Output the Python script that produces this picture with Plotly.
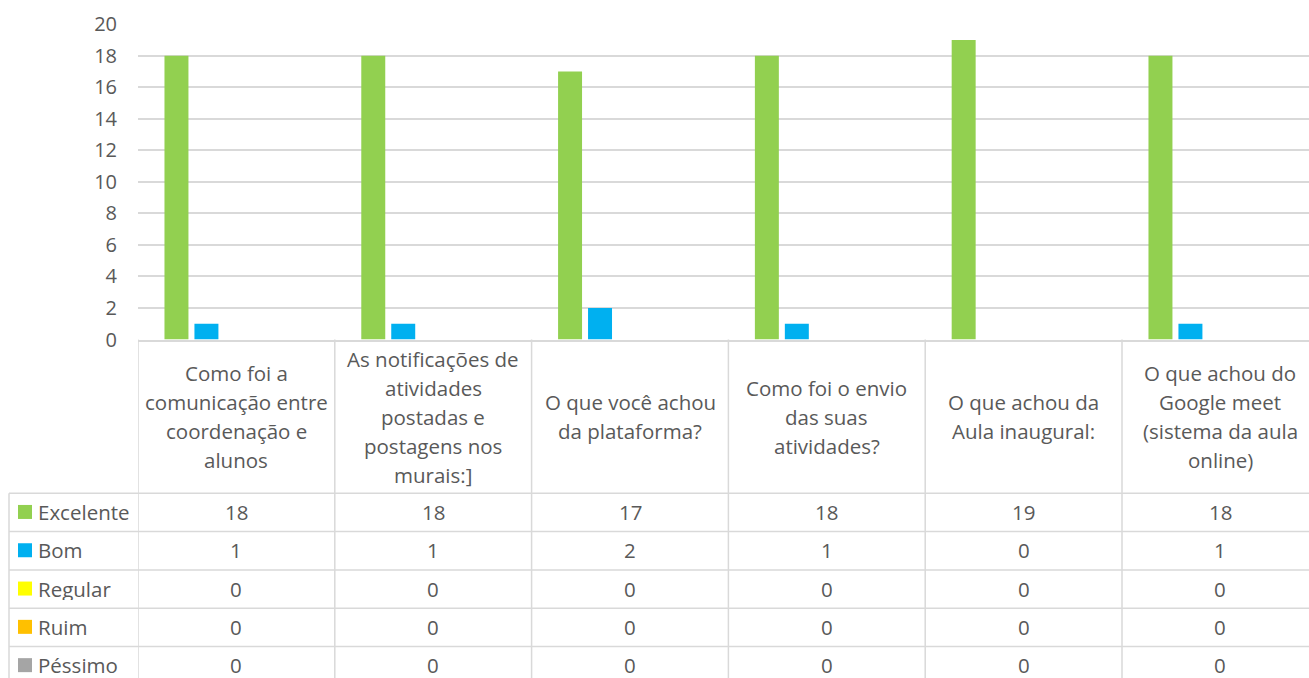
import plotly.graph_objects as go

# ---- data ----
categories = [
    "Como foi a<br>comunicação entre<br>coordenação e<br>alunos",
    "As notificações de<br>atividades<br>postadas e<br>postagens nos<br>murais:]",
    "O que você achou<br>da plataforma?",
    "Como foi o envio<br>das suas<br>atividades?",
    "O que achou da<br>Aula inaugural:",
    "O que achou do<br>Google meet<br>(sistema da aula<br>online)",
]
series_names = ["Excelente", "Bom", "Regular", "Ruim", "Péssimo"]
excelente = [18, 18, 17, 18, 19, 18]
bom = [1, 1, 2, 1, 0, 1]
regular = [0, 0, 0, 0, 0, 0]
ruim = [0, 0, 0, 0, 0, 0]
pessimo = [0, 0, 0, 0, 0, 0]
y_ticks = [0, 2, 4, 6, 8, 10, 12, 14, 16, 18, 20]

colors = ["#92D050", "#00B0F0", "#FFFF00", "#FFC000", "#A5A5A5"]
series_values = [excelente, bom, regular, ruim, pessimo]

W, H = 1309, 678
FONT = "Open Sans"
TXT = "#595959"
GRID = "#D9D9D9"


def py(p):
    return 1 - p / H


def px(p):
    return p / W


xs = list(range(len(categories)))

fig = go.Figure()
for name, vals, col in zip(series_names, series_values, colors):
    fig.add_trace(go.Bar(x=xs, y=vals, name=name, marker=dict(color=col, line=dict(width=0)),
                         showlegend=False, hoverinfo="x+y+name"))

# geometry
plot_left = 138
plot_top = 24.3
plot_bottom = 339.5
col_w = 196.8
header_bottom = 493.3
row_h = 38.3
line_sp = 29

shapes = []
annotations = []

# vertical lines of table (column boundaries)
for i in range(len(categories)):
    shapes.append(dict(type="line", xref="x", yref="paper", x0=i - 0.5, x1=i - 0.5,
                       y0=py(plot_bottom), y1=0, line=dict(color=GRID, width=1.5)))
# left edge of label column
shapes.append(dict(type="line", xref="paper", yref="paper", x0=px(9), x1=px(9),
                   y0=py(header_bottom), y1=0, line=dict(color=GRID, width=1.5)))
# horizontal row lines
for r in range(len(series_names)):
    yy = header_bottom + r * row_h
    shapes.append(dict(type="line", xref="paper", yref="paper", x0=px(9), x1=1,
                       y0=py(yy), y1=py(yy), line=dict(color=GRID, width=1.5)))

# header texts
header_center = (plot_bottom + header_bottom) / 2 + 0.5
for i, cat in enumerate(categories):
    lines = cat.split("<br>")
    n = len(lines)
    for k, ln in enumerate(lines):
        yc = header_center + (k - (n - 1) / 2) * line_sp
        annotations.append(dict(x=i, y=py(yc), xref="x", yref="paper", text=ln,
                                showarrow=False, xanchor="center", yanchor="middle",
                                font=dict(family=FONT, size=20.5, color=TXT)))

# rows: legend keys, labels and values
for r, (name, vals, col) in enumerate(zip(series_names, series_values, colors)):
    yc = header_bottom + r * row_h + row_h / 2 - 0.5
    shapes.append(dict(type="rect", xref="paper", yref="paper", x0=px(18), x1=px(32),
                       y0=py(yc + 7), y1=py(yc - 7), fillcolor=col, line=dict(width=0)))
    annotations.append(dict(x=px(36), y=py(yc), xref="paper", yref="paper", text=name,
                            showarrow=False, xanchor="left", yanchor="middle",
                            height=22, valign="middle",
                            font=dict(family=FONT, size=20.5, color=TXT)))
    for i, v in enumerate(vals):
        annotations.append(dict(x=i, y=py(yc), xref="x", yref="paper", text=str(v),
                                showarrow=False, xanchor="center", yanchor="middle",
                                height=22, valign="middle",
                                font=dict(family=FONT, size=20.5, color=TXT)))

x_right = -0.5 + (W - plot_left) / col_w

fig.update_layout(
    width=W, height=H,
    margin=dict(l=0, r=0, t=0, b=0, autoexpand=False),
    paper_bgcolor="white", plot_bgcolor="white",
    barmode="group", bargap=0.2386, bargroupgap=0.2,
    xaxis=dict(domain=[px(plot_left), 1], range=[-0.5, x_right], showticklabels=False,
               showgrid=False, zeroline=False, showline=True, linecolor=GRID, linewidth=1.5,
               ticks="", automargin=False, fixedrange=True),
    yaxis=dict(domain=[py(plot_bottom), py(plot_top)], range=[0, 20], tickvals=y_ticks,
               showgrid=True, gridcolor=GRID, gridwidth=1.5, zeroline=False, showline=False,
               ticks="", ticklabelstandoff=20, automargin=False, fixedrange=True,
               tickfont=dict(family=FONT, size=20, color=TXT)),
    shapes=shapes,
    annotations=annotations,
    font=dict(family=FONT, color=TXT),
)

fig.write_html("out.html", config={"displayModeBar": False},
               post_script="document.body.style.margin='0';")
